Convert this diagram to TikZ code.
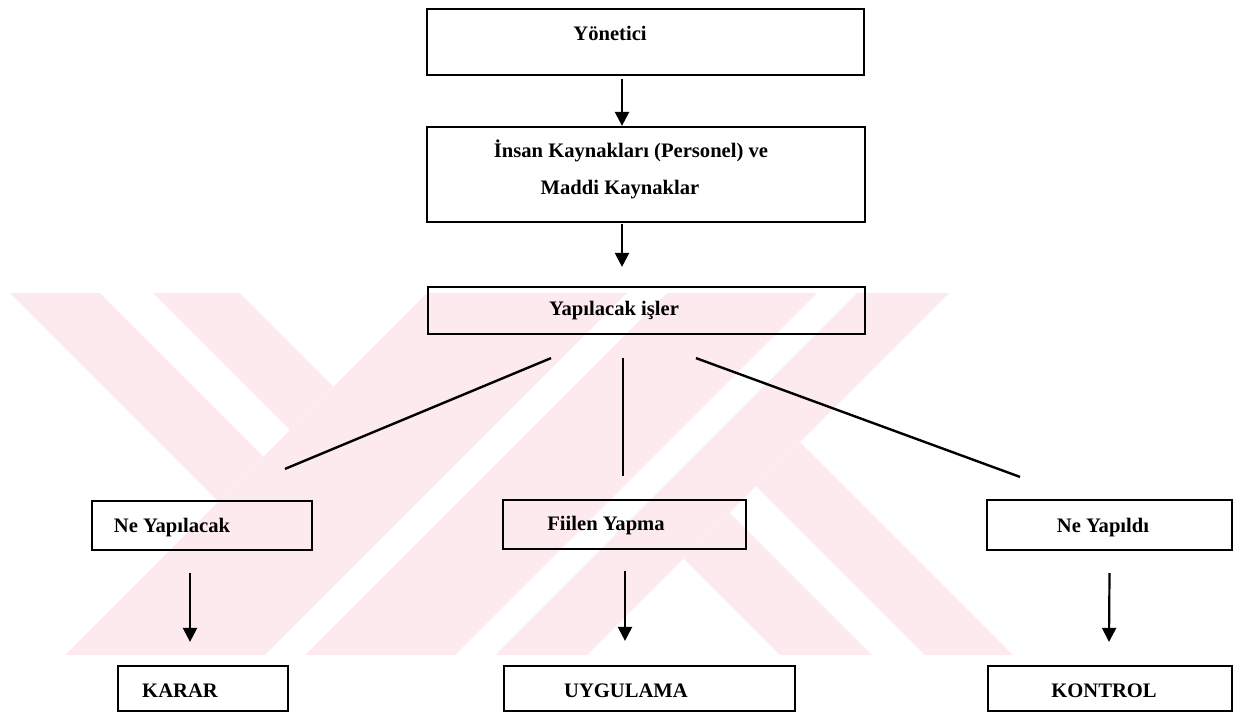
\documentclass[tikz,border=0pt]{standalone}
\usepackage{fontspec}
\setmainfont{Liberation Serif}
\usetikzlibrary{arrows.meta,calc,fit}
\definecolor{wmpink}{RGB}{253,234,238}

\begin{document}
\begin{tikzpicture}[x=0.5pt,y=-0.5pt,
    every node/.style={inner sep=0pt},
    kutu/.style={draw,line width=1.1pt},
    yazi/.style={anchor=base,font=\fontsize{10.3}{12}\selectfont\bfseries},
    ok/.style={line width=1.1pt,-{Triangle[length=7pt,width=7pt]}},
    hat/.style={line width=1.2pt}]
    \useasboundingbox (0,0) rectangle (1242,714);
    % filigran
    \fill[wmpink] (10,293) -- (100,293) -- (263.5,456.5) -- (218.5,501.5) -- cycle;
    \fill[wmpink] (153,293) -- (240,293) -- (333.5,386.5) -- (290,430) -- cycle;
    \fill[wmpink] (65,655) -- (265,655) -- (627,293) -- (427,293) -- cycle;
    \fill[wmpink] (305,655) -- (455,655) -- (817,293) -- (667,293) -- cycle;
    \fill[wmpink] (495,655) -- (587,655) -- (949,293) -- (857,293) -- cycle;
    \fill[wmpink] (683.5,558.5) -- (729.5,512.5) -- (872,655) -- (780,655) -- cycle;
    \fill[wmpink] (756,486) -- (800,442) -- (1013,655) -- (925,655) -- cycle;
    % kutular
    \node (yon) [kutu, fit={(427,9) (864,75)}] {};
    \node (kaynak) [kutu, fit={(427,127) (865,222)}] {};
    \node (isler) [kutu, fit={(428,287) (865,334)}] {};
    \node (neyap) [kutu, fit={(92,501) (312,550)}] {};
    \node (fiilen) [kutu, fit={(503,500) (746,549)}] {};
    \node (yapildi) [kutu, fit={(987,500) (1232,550)}] {};
    \node (karar) [kutu, fit={(118,666) (288,711)}] {};
    \node (uygulama) [kutu, fit={(504,666) (795,711)}] {};
    \node (kontrol) [kutu, fit={(988,666) (1232,711)}] {};
    % yazilar
    \node (yonYazi) [yazi] at (610,40) {Yönetici};
    \node (kaynakYazi1) [yazi] at (631,157) {İnsan Kaynakları (Personel) ve};
    \node (kaynakYazi2) [yazi] at (620,194) {Maddi Kaynaklar};
    \node (islerYazi) [yazi] at (614,315) {Yapılacak işler};
    \node (neyapYazi) [yazi] at (172,532) {Ne Yapılacak};
    \node (fiilenYazi) [yazi] at (606,530) {Fiilen Yapma};
    \node (yapildiYazi) [yazi] at (1103,532) {Ne Yapıldı};
    \node (kararYazi) [yazi] at (180,697) {KARAR};
    \node (uygulamaYazi) [yazi] at (626,697) {UYGULAMA};
    \node (kontrolYazi) [yazi] at (1104,697) {KONTROL};
    % oklar
    \draw[ok] ($(yon.south)+(-23.5,3)$) -- ($(kaynak.north)+(-24,0)$);
    \draw[ok] ($(kaynak.south)+(-24,1)$) -- ($(isler.north)+(-24.5,-19)$);
    \draw[hat] ($(isler.south)+(-95.5,23)$) -- ($(neyap.north)+(83,-31)$);
    \draw[hat] ($(isler.south)+(-23.5,23)$) -- ($(fiilen.north)+(-1.5,-23)$);
    \draw[hat] ($(isler.south)+(49.5,23)$) -- ($(yapildi.north)+(-89.5,-22)$);
    \draw[ok] ($(neyap.south)+(-12,22)$) -- ($(karar.north)+(-13,-23)$);
    \draw[ok] ($(fiilen.south)+(0.5,21)$) -- ($(uygulama.north)+(-24.5,-24)$);
    \draw[ok] ($(yapildi.south)+(0,22)$) -- ($(kontrol.north)+(-1,-23)$);
\end{tikzpicture}
\end{document}
